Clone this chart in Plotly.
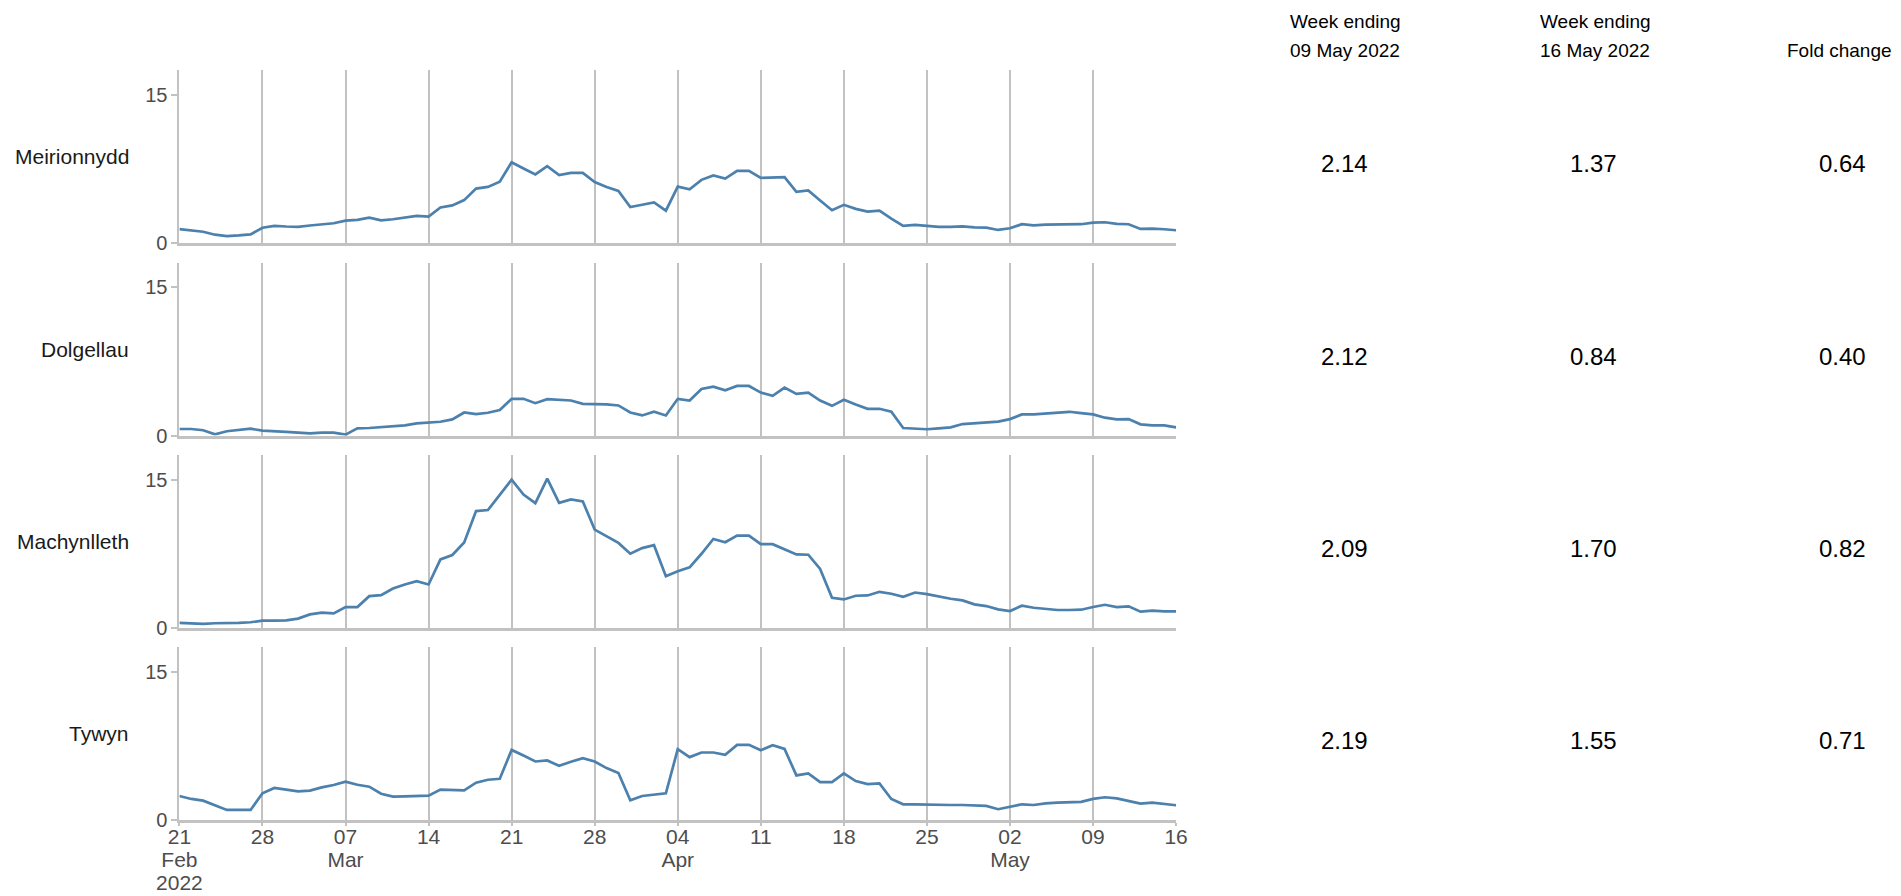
import pandas as pd
import plotly.graph_objects as go

# ---------------- data ----------------
areas = ["Meirionnydd", "Dolgellau", "Machynlleth", "Tywyn"]
dates = pd.date_range("2022-02-21", "2022-05-16", freq="D")

meirionnydd = [
    1.43, 1.30, 1.17, 0.87, 0.73, 0.80, 0.90,
    1.57, 1.77, 1.70, 1.67, 1.80, 1.93, 2.03,
    2.30, 2.37, 2.60, 2.33, 2.43, 2.57, 2.77,
    2.70, 3.63, 3.83, 4.37, 5.53, 5.70, 6.23,
    8.20, 7.57, 6.97, 7.80, 6.90, 7.13, 7.13,
    6.20, 5.70, 5.30, 3.67, 3.90, 4.13, 3.30,
    5.74,
    5.47, 6.42, 6.86, 6.55, 7.33, 7.33,
    6.62, 6.69, 6.69, 5.20, 5.34, 4.32, 3.34,
    3.89, 3.48, 3.21, 3.31, 2.50, 1.76, 1.86,
    1.76, 1.66, 1.66, 1.72, 1.62, 1.59, 1.35,
    1.52, 1.93, 1.82, 1.89, 1.89, 1.93, 1.93,
    2.09, 2.13, 1.96, 1.93, 1.45, 1.49, 1.42,
    1.32]

dolgellau = [
    0.67, 0.67, 0.54, 0.13, 0.44, 0.54, 0.70,
    0.50, 0.40, 0.37, 0.30, 0.23, 0.30, 0.30,
    0.10, 0.74, 0.77, 0.84, 0.90, 1.04, 1.24,
    1.34, 1.40, 1.64, 2.34, 2.18, 2.31, 2.58,
    3.72, 3.72, 3.28, 3.68, 3.58, 3.55, 3.21,
    3.21, 3.15, 3.05, 2.34, 2.04, 2.41, 2.04,
    3.72,
    3.55, 4.72, 4.95, 4.59, 5.02, 5.02,
    4.35, 4.02, 4.85, 4.22, 4.35, 3.55, 3.01,
    3.62, 3.15, 2.71, 2.71, 2.41, 0.77, 0.74,
    0.64, 0.74, 0.84, 1.17, 1.24, 1.31, 1.41,
    1.67, 2.14, 2.14, 2.21, 2.31, 2.41, 2.28,
    2.14, 1.81, 1.64, 1.67, 1.14, 1.04, 1.04,
    0.84]

machynlleth = [
    0.50, 0.44, 0.40, 0.47, 0.47, 0.50, 0.57,
    0.74, 0.74, 0.77, 0.94, 1.37, 1.54, 1.47,
    2.11, 2.11, 3.21, 3.31, 3.98, 4.39, 4.72,
    4.39, 6.93, 7.37, 8.64, 11.82, 11.92, 13.42,
    15.00, 13.49, 12.62, 15.10, 12.65, 12.99, 12.79,
    9.94, 9.27, 8.60, 7.50, 8.07, 8.37, 5.22,
    5.74,
    6.13, 7.50, 9.00, 8.67, 9.34, 9.34,
    8.47, 8.47, 7.93, 7.43, 7.40, 5.96, 3.05,
    2.88, 3.25, 3.28, 3.65, 3.45, 3.15, 3.58,
    3.41, 3.15, 2.95, 2.78, 2.38, 2.21, 1.87,
    1.71, 2.24, 2.04, 1.94, 1.81, 1.81, 1.84,
    2.11, 2.34, 2.11, 2.18, 1.64, 1.74, 1.67,
    1.67]

tywyn = [
    2.45, 2.15, 1.98, 1.51, 1.04, 1.04, 1.04,
    2.72, 3.26, 3.09, 2.92, 2.99, 3.32, 3.56,
    3.89, 3.59, 3.39, 2.68, 2.38, 2.42, 2.48,
    2.48, 3.09, 3.02, 3.02, 3.79, 4.09, 4.19,
    7.11, 6.54, 5.94, 6.04, 5.50, 5.91, 6.28,
    5.94, 5.27, 4.77, 2.01, 2.45, 2.55, 2.72,
    7.18,
    6.38, 6.85, 6.85, 6.61, 7.62, 7.62,
    7.08, 7.58, 7.21, 4.53, 4.73, 3.86, 3.86,
    4.73, 3.96, 3.66, 3.72, 2.15, 1.61, 1.61,
    1.58, 1.51, 1.54, 1.54, 1.51, 1.44, 1.11,
    1.34, 1.61, 1.54, 1.71, 1.78, 1.78, 1.85,
    2.15, 2.32, 2.21, 1.98, 1.68, 1.78, 1.64,
    1.51]

week_0905 = [2.14, 2.12, 2.09, 2.19]
week_1605 = [1.37, 0.84, 1.70, 1.55]
fold_change = [0.64, 0.40, 0.82, 0.71]

tick_dates = pd.date_range("2022-02-21", "2022-05-16", freq="7D")
tick_lines = [["21", "Feb", "2022"], ["28"], ["07", "Mar"], ["14"], ["21"], ["28"],
              ["04", "Apr"], ["11"], ["18"], ["25"], ["02", "May"], ["09"], ["16"]]
y_ticks = [0, 15]

col_headers_1 = ["Week ending", "Week ending", ""]
col_headers_2 = ["09 May 2022", "16 May 2022", "Fold change"]

# ---------------- layout geometry (pixels, figure coordinates) ----------------
W, H = 1901, 896
FONT = "Liberation Sans, Arial, sans-serif"
LINE_COLOR = "#4c80ad"
GRID = "#c2c2c2"
TICKCOL = "#4d4d4d"

x_left, x_right = 171.4, 1168.1
panel_tops = [62.3, 254.6, 446.9, 639.2]
panel_h = 173.0


def fx(px):
    return px / W


def fy(py):
    return 1 - py / H


def tick_label(lines):
    return "<br>".join(f"<span style='font-size:21px'>{t}</span>" for t in lines)


tick_text = [tick_label(l) for l in tick_lines]
series = [meirionnydd, dolgellau, machynlleth, tywyn]

fig = go.Figure()
layout = dict(
    width=W, height=H,
    margin=dict(l=0, r=0, t=0, b=0),
    paper_bgcolor="white", plot_bgcolor="white",
    showlegend=False,
    template="none",
    font=dict(family=FONT, color="#000000"),
)

for i, (name, vals) in enumerate(zip(areas, series)):
    n = i + 1
    xa = "x" if n == 1 else f"x{n}"
    ya = "y" if n == 1 else f"y{n}"
    fig.add_trace(go.Scatter(
        x=dates, y=vals, mode="lines", xaxis=xa, yaxis=ya,
        line=dict(color=LINE_COLOR, width=2.7), hoverinfo="x+y", name=name))
    top = panel_tops[i]
    bot = top + panel_h
    last = (i == len(areas) - 1)
    layout["xaxis" if n == 1 else f"xaxis{n}"] = dict(
        domain=[fx(x_left), fx(x_right)],
        anchor=ya,
        type="date",
        range=[dates[0], dates[-1]],
        tickvals=list(tick_dates),
        ticktext=tick_text,
        showticklabels=last,
        ticks="outside" if last else "",
        ticklen=3, tickcolor=GRID, tickwidth=2,
        ticklabelstandoff=-3,
        tickfont=dict(family=FONT, size=17.7, color=TICKCOL),
        showgrid=True, gridcolor=GRID, gridwidth=2,
        showline=True, linecolor=GRID, linewidth=3,
        zeroline=False, automargin=False, fixedrange=True,
    )
    layout["yaxis" if n == 1 else f"yaxis{n}"] = dict(
        domain=[fy(bot), fy(top)],
        anchor=xa,
        range=[0, 17.5],
        tickvals=y_ticks,
        ticktext=[str(v) for v in y_ticks],
        ticks="outside", ticklen=6, tickcolor=GRID, tickwidth=2,
        tickfont=dict(family=FONT, size=20, color=TICKCOL),
        showgrid=False, showline=True, linecolor=GRID, linewidth=2,
        zeroline=False, automargin=False, fixedrange=True,
    )

annotations = []
col_x = [1336, 1585, 1834]
# row labels + table values
for i, name in enumerate(areas):
    top = panel_tops[i]
    cy = top + panel_h / 2
    annotations.append(dict(
        text=name, x=fx(123), y=fy(cy), xref="paper", yref="paper",
        xanchor="right", yanchor="middle", showarrow=False,
        font=dict(family=FONT, size=21, color="#1a1a1a")))
    for cx, vals in zip(col_x, [week_0905, week_1605, fold_change]):
        annotations.append(dict(
            text=f"{vals[i]:.2f}", x=fx(cx), y=fy(cy + 7), xref="paper", yref="paper",
            xanchor="center", yanchor="middle", showarrow=False,
            font=dict(family=FONT, size=24, color="#000000")))
# column headers
for cx, h1, h2 in zip([1337, 1587, 1831], col_headers_1, col_headers_2):
    if h1:
        annotations.append(dict(
            text=h1, x=fx(cx), y=fy(13), xref="paper", yref="paper",
            xanchor="center", yanchor="middle", showarrow=False,
            font=dict(family=FONT, size=19, color="#000000")))
    annotations.append(dict(
        text=h2, x=fx(cx), y=fy(42.5), xref="paper", yref="paper",
        xanchor="center", yanchor="middle", showarrow=False,
        font=dict(family=FONT, size=19, color="#000000")))

layout["annotations"] = annotations
fig.update_layout(**layout)

fig.write_html("out.html")
